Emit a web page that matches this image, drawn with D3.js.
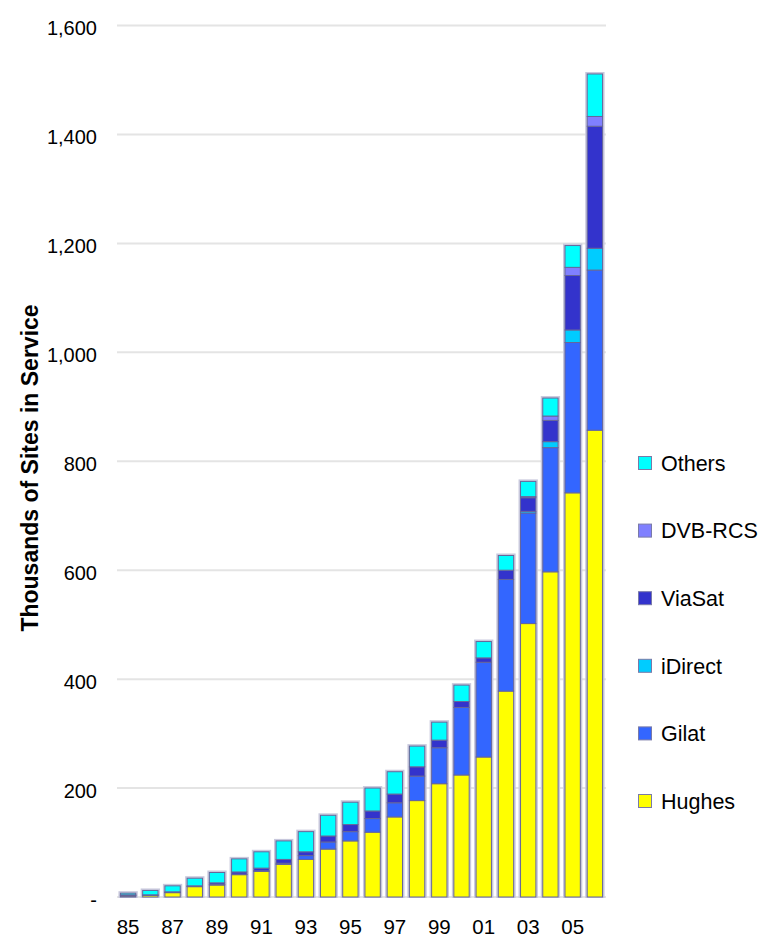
<!DOCTYPE html>
<html>
<head>
<meta charset="utf-8">
<script src="https://cdn.jsdelivr.net/npm/d3@7"></script>
<style>
  html, body { margin: 0; padding: 0; background: #fff; }
  svg { display: block; font-family: "Liberation Sans", Arial, sans-serif; }
</style>
</head>
<body>
<svg id="chart" width="762" height="939"></svg>
<script>
const years = ["85","86","87","88","89","90","91","92","93","94","95","96","97","98","99","00","01","02","03","04","05","06"];
const seriesNames = ["Hughes","Gilat","iDirect","ViaSat","DVB-RCS","Others"];
const hughes  = [2,3,8,19,22,41,47,60,69,88,103,119,147,177,208,224,257,378,502,597,742,857];
const gilat   = [1,0.5,0.5,0.5,1,1,1,2,7,13,17,25,26,45,66,124,174,205,203,228,276,294];
const idirect = [0,0,0,0,0,0,0,0,0,0,0,0,0,0,0,0,0,0,3,11,23,40];
const viasat  = [1,0.5,1,1,3,4,5,7,7,11,13,14,16,17,14,11,8,17,25,39,100,224];
const dvbrcs  = [0,0,0,0,0,0,0,0,0,0,0,0,0,0,0,0,0,0,2,8,15,18];
const others  = [3,8,11,14,19,24,30,34,37,38,41,42,41,38,33,30,30,27,28,33,40,78];
const yTicks = [0,200,400,600,800,1000,1200,1400,1600];
const xTickLabels = ["85","87","89","91","93","95","97","99","01","03","05"];
const colors = {"Hughes":"#FFFF00","Gilat":"#3366FF","iDirect":"#00CCFF","ViaSat":"#3333CC","DVB-RCS":"#8080FF","Others":"#00FFFF"};

const seriesData = {"Hughes":hughes,"Gilat":gilat,"iDirect":idirect,"ViaSat":viasat,"DVB-RCS":dvbrcs,"Others":others};
const table = years.map((yr,i) => {
  const row = {year: yr};
  seriesNames.forEach(s => row[s] = seriesData[s][i]);
  return row;
});

const svg = d3.select("#chart");
const mLeft = 117, mRight = 606, mTop = 25.5, mBottom = 897;

const x = d3.scaleBand().domain(years).range([mLeft, mRight]).paddingInner(0.31).paddingOuter(0.155);
const y = d3.scaleLinear().domain([0,1600]).range([mBottom, mTop]);

// gridlines
svg.append("g").selectAll("line").data(yTicks).join("line")
  .attr("x1", mLeft).attr("x2", mRight)
  .attr("y1", d => y(d)).attr("y2", d => y(d))
  .attr("stroke", "#e4e4e4").attr("stroke-width", 2);

// y axis labels
const yAxis = d3.axisLeft(y).tickValues(yTicks).tickSize(0).tickPadding(0)
  .tickFormat(d => d === 0 ? "-" : d3.format(",")(d));
const ya = svg.append("g").attr("transform", `translate(${mLeft - 20},0)`).call(yAxis);
ya.select(".domain").remove();
ya.selectAll("text").attr("font-size", 20).attr("fill", "#000")
  .attr("font-family", '"Liberation Sans", Arial, sans-serif').attr("dy", "0.45em");

// x axis labels
const xAxis = d3.axisBottom(x).tickValues(xTickLabels).tickSize(0).tickPadding(0);
const xa = svg.append("g").attr("transform", `translate(0,${mBottom + 22})`).call(xAxis);
xa.select(".domain").remove();
xa.selectAll("text").attr("font-size", 20.5).attr("fill", "#000")
  .attr("font-family", '"Liberation Sans", Arial, sans-serif').attr("dy", "0.72em");

// stacked bars
const stack = d3.stack().keys(seriesNames);
const stacked = stack(table);

// halo behind bars
svg.append("g").selectAll("rect").data(table).join("rect")
  .attr("x", d => x(d.year) - 1)
  .attr("width", x.bandwidth() + 2)
  .attr("y", d => y(d3.sum(seriesNames, s => d[s])) - 1)
  .attr("height", d => y(0) - y(d3.sum(seriesNames, s => d[s])) + 1)
  .attr("fill", "none").attr("stroke", "#c8c8dc").attr("stroke-width", 2);

svg.append("g").selectAll("g").data(stacked).join("g")
  .attr("fill", d => colors[d.key])
  .selectAll("rect").data(d => d.filter(p => p[1] - p[0] > 0)).join("rect")
  .attr("x", d => x(d.data.year))
  .attr("width", x.bandwidth())
  .attr("y", d => y(d[1]))
  .attr("height", d => y(d[0]) - y(d[1]))
  .attr("stroke", "#66669a").attr("stroke-width", 1);

// y axis title
svg.append("text")
  .attr("transform", "translate(30,468) rotate(-90)")
  .attr("text-anchor", "middle").attr("dominant-baseline", "central")
  .attr("font-size", 23).attr("font-weight", "bold")
  .text("Thousands of Sites in Service");

// legend
const legendOrder = ["Others","DVB-RCS","ViaSat","iDirect","Gilat","Hughes"];
const legendY = d3.scalePoint().domain(legendOrder).range([463, 801]);
const lg = svg.append("g").selectAll("g").data(legendOrder).join("g")
  .attr("transform", d => `translate(638,${legendY(d)})`);
lg.append("rect").attr("x", 0.5).attr("y", -6.5).attr("width", 13).attr("height", 13)
  .attr("fill", d => colors[d]).attr("stroke", "#7a7aa8").attr("stroke-width", 1);
lg.append("text").attr("x", 23).attr("y", 0).attr("dy", "0.36em")
  .attr("font-size", 21.5).text(d => d);
</script>
</body>
</html>
